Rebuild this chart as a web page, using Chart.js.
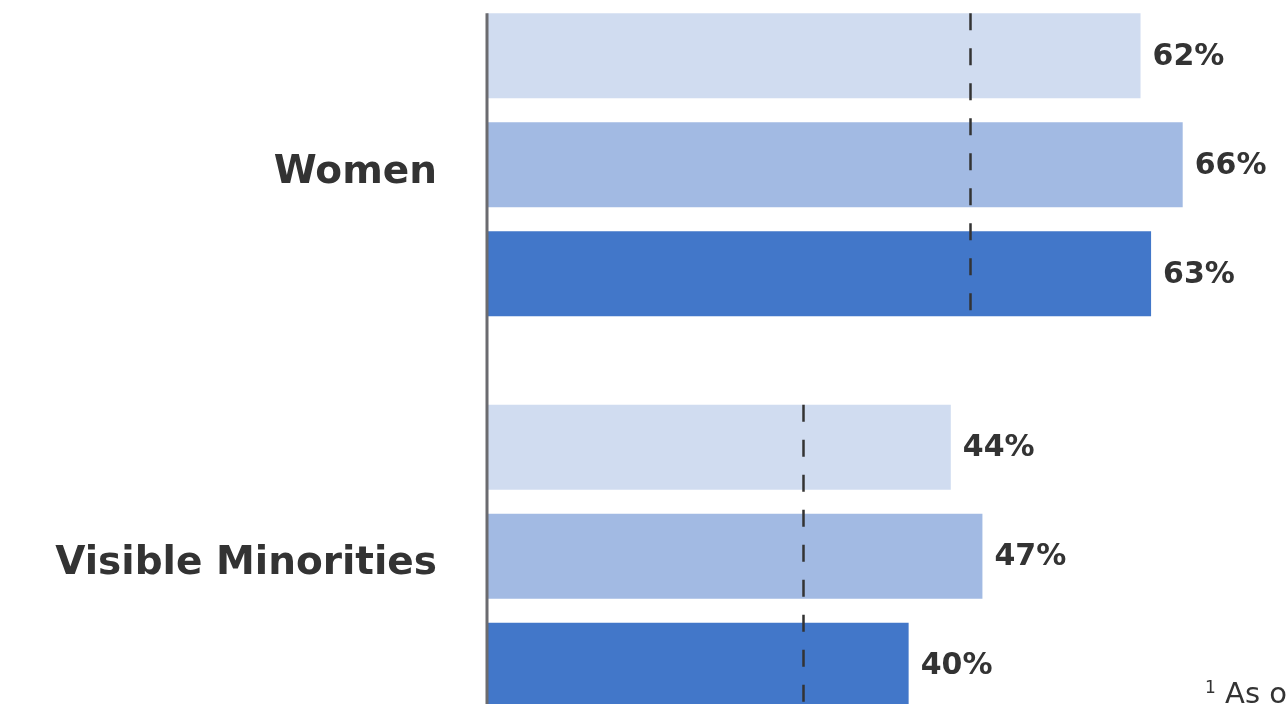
<!DOCTYPE html>
<html>
<head>
<meta charset="utf-8">
<script src="https://cdn.jsdelivr.net/npm/chart.js@4"></script>
<style>
  html, body { margin: 0; padding: 0; background: #fff; overflow: hidden; width: 1286px; height: 704px; }
  #grafico { position: absolute; left: 0; top: -31px; }
  #nota { position: absolute; left: 1205px; top: 676px; font: 29px "DejaVu Sans", sans-serif; color: #333; white-space: nowrap; }
  #nota sup { font-size: 17px; vertical-align: 10px; }
</style>
</head>
<body>
<canvas id="grafico" width="1286" height="783"></canvas>
<div id="nota"><sup>1</sup> As of</div>
<script>
const categorias = ['Women', 'Visible Minorities']
const serieA = [62, 44]
const serieB = [66, 47]
const serieC = [63, 40]
const referencia = [45.8, 30]
const cores = ['#d0dcf0', '#a2bae3', '#4277c9']

const fonte = '"DejaVu Sans", sans-serif'

// eixo vertical + linhas tracejadas + rotulos
const extras = {
    id: 'extras',
    afterDatasetsDraw(chart) {
        const ctx = chart.ctx
        const x = chart.scales.x
        const primeira = chart.getDatasetMeta(0).data[0]
        const topoEixo = primeira.y - primeira.height / 2

        ctx.save()
        ctx.strokeStyle = '#6b6b6f'
        ctx.lineWidth = 3
        ctx.beginPath()
        ctx.moveTo(x.getPixelForValue(0), topoEixo)
        ctx.lineTo(x.getPixelForValue(0), chart.chartArea.bottom)
        ctx.stroke()

        // linhas de referencia por categoria
        referencia.forEach((valor, i) => {
            const b0 = chart.getDatasetMeta(0).data[i]
            const b2 = chart.getDatasetMeta(2).data[i]
            const px = Math.round(x.getPixelForValue(valor)) + 0.5
            ctx.strokeStyle = '#333'
            ctx.lineWidth = 2.5
            ctx.setLineDash([17, 18])
            ctx.beginPath()
            ctx.moveTo(px, b0.y - b0.height / 2)
            ctx.lineTo(px, b2.y + b2.height / 2)
            ctx.stroke()
        })
        ctx.setLineDash([])

        // rotulos de valor
        ctx.fillStyle = '#333'
        ctx.font = 'bold 30px ' + fonte
        ctx.textBaseline = 'middle'
        ctx.textAlign = 'left'
        chart.data.datasets.forEach((ds, d) => {
            chart.getDatasetMeta(d).data.forEach((barra, i) => {
                ctx.fillText(ds.data[i] + '%', barra.x + 12, barra.y + 1)
            })
        })
        ctx.restore()
    }
}

new Chart(document.getElementById('grafico'), {
    type: 'bar',
    data: {
        labels: categorias,
        datasets: [
            { label: 'A', data: serieA, backgroundColor: cores[0] },
            { label: 'B', data: serieB, backgroundColor: cores[1] },
            { label: 'C', data: serieC, backgroundColor: cores[2] }
        ]
    },
    options: {
        indexAxis: 'y',
        responsive: false,
        animation: false,
        layout: { padding: 0 },
        categoryPercentage: 0.835,
        barPercentage: 0.78,
        plugins: {
            legend: { display: false },
            tooltip: { enabled: false }
        },
        scales: {
            x: {
                display: false,
                min: 0,
                max: 75.8
            },
            y: {
                grid: { display: false, drawTicks: false },
                border: { display: false },
                afterFit(scale) {
                    scale.width = 487
                    scale.paddingTop = 0
                    scale.paddingBottom = 0
                },
                ticks: {
                    padding: 50,
                    labelOffset: 8,
                    color: '#333',
                    font: { family: fonte, size: 39, weight: 'bold' }
                }
            }
        }
    },
    plugins: [extras]
})
</script>
</body>
</html>
